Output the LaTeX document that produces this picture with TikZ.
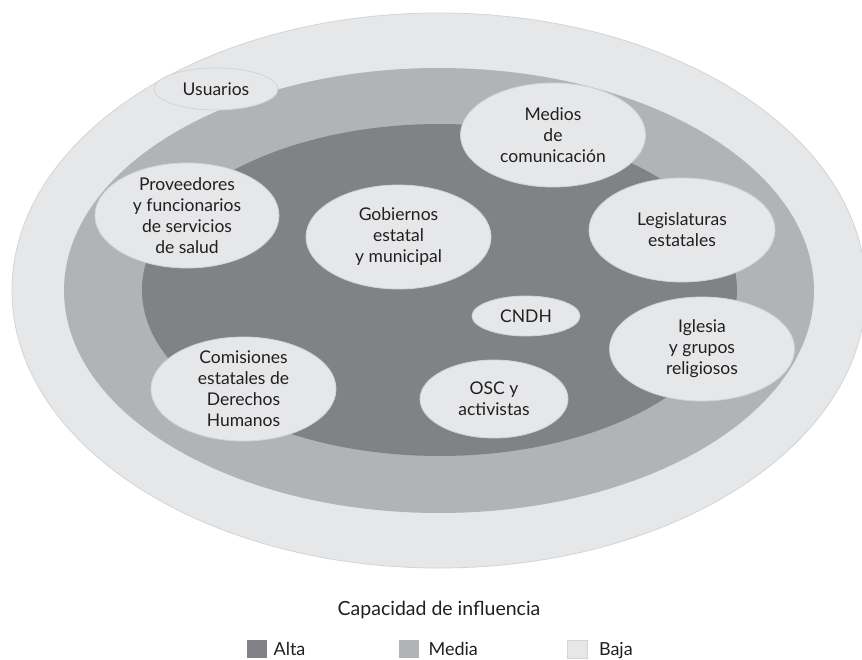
\documentclass[tikz,border=0pt]{standalone}
\usepackage{fontspec}
\setmainfont{Lato}
\usetikzlibrary{shapes.geometric}
\definecolor{alta}{HTML}{808285}
\definecolor{media}{HTML}{B1B3B6}
\definecolor{baja}{HTML}{E6E7E8}
\definecolor{rim}{HTML}{D3D4D6}
\definecolor{ink}{HTML}{231F20}
\tikzset{
  ring/.style={ellipse, inner sep=0pt, draw=none},
  bub/.style={ellipse, inner sep=0pt, fill=baja, draw=rim, line width=0.8pt},
  txt/.style={align=center, text=ink, font=\fontsize{17.5}{21}\selectfont, inner sep=0pt},
  key/.style={minimum width=20pt, minimum height=18pt, inner sep=0pt, anchor=west},
  keytxt/.style={text=ink, font=\fontsize{18}{21}\selectfont, anchor=base west, inner sep=0pt}
}
\begin{document}
\begin{tikzpicture}[x=1pt,y=-1pt]
\useasboundingbox (0,0) rectangle (862,660);
\fill[white] (0,0) rectangle (862,660);
% rings
\node[ring, fill=baja, draw=rim, line width=0.8pt, minimum width=854pt, minimum height=555pt] (baja) at (439,290.5) {};
\node[ring, fill=media, minimum width=750pt, minimum height=445pt] (media) at (439,290.5) {};
\node[ring, fill=alta, minimum width=595pt, minimum height=332pt] (alta) at (439.5,290) {};
% bubbles
\node[bub, minimum width=124pt, minimum height=42pt] (usu) at (216,89) {};
\node[txt] at (usu) {Usuarios};
\node[bub, minimum width=185pt, minimum height=104pt] (med) at (553,135) {};
\node[txt] at (med) {Medios\\de\\comunicación};
\node[bub, minimum width=184pt, minimum height=105pt] (prov) at (187,215.5) {};
\node[txt] at (prov) {Proveedores\\y funcionarios\\de servicios\\de salud};
\node[bub, minimum width=185pt, minimum height=104pt] (gob) at (398.5,237) {};
\node[txt] at (gob) {Gobiernos\\estatal\\y municipal};
\node[bub, minimum width=186pt, minimum height=104pt] (leg) at (682,230) {};
\node[txt] at (leg) {Legislaturas\\estatales};
\node[bub, minimum width=108pt, minimum height=40pt] (cndh) at (526,316) {};
\node[txt] at (cndh) {CNDH};
\node[bub, minimum width=185pt, minimum height=104pt] (igl) at (702,349) {};
\node[txt] at (igl) {Iglesia\\y grupos\\religiosos};
\node[bub, minimum width=185pt, minimum height=104pt] (com) at (243.5,389) {};
\node[txt] at (com) {Comisiones\\estatales de\\Derechos\\Humanos};
\node[bub, minimum width=148pt, minimum height=78pt] (osc) at (494,399) {};
\node[txt] at (osc) {OSC y\\activistas};
% legend
\node[text=ink, font=\fontsize{19.5}{23}\selectfont, inner sep=0pt, anchor=base] (title) at (439,615) {Capacidad de influencia};
\node[key, fill=alta] (ka) at (247,649) {};
\node[keytxt] (ta) at ([xshift=6pt]ka.east |- 0,655) {Alta};
\node[key, fill=media] (km) at (399,649) {};
\node[keytxt] (tm) at ([xshift=9pt]km.east |- 0,655) {Media};
\node[key, fill=baja, draw=rim, line width=0.8pt] (kb) at (567,649) {};
\node[keytxt] (tb) at ([xshift=11pt]kb.east |- 0,655) {Baja};
\end{tikzpicture}
\end{document}
